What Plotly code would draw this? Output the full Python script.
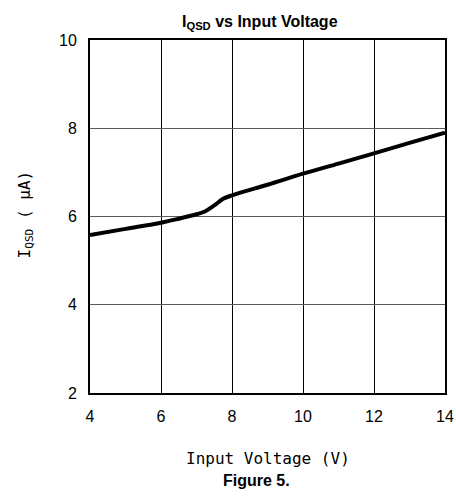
import plotly.graph_objects as go

# Data
vin = [4, 5, 6, 6.5, 7, 7.25, 7.5, 7.75, 8, 9, 10, 11, 12, 13, 14]
iqsd = [5.58, 5.72, 5.86, 5.95, 6.05, 6.12, 6.25, 6.40, 6.48, 6.72, 6.97, 7.2, 7.43, 7.67, 7.9]
x_ticks = [4, 6, 8, 10, 12, 14]
y_ticks = [2, 4, 6, 8, 10]

fig = go.Figure()
fig.add_trace(go.Scatter(x=vin, y=iqsd, mode="lines",
                         line=dict(color="black", width=4, shape="spline", smoothing=1.0),
                         showlegend=False))

fig.update_layout(
    width=456, height=497,
    margin=dict(l=90, r=11, t=40, b=104),
    paper_bgcolor="white", plot_bgcolor="white",
    font=dict(family="Liberation Sans, Arial", color="black"),
    xaxis=dict(range=[4, 14], tickvals=x_ticks, showgrid=True, gridcolor="black", gridwidth=1,
               showline=True, linecolor="black", linewidth=2, mirror=True, zeroline=False,
               ticks="outside", ticklen=8, tickcolor="rgba(0,0,0,0)", automargin=False,
               tickfont=dict(size=16, family="Liberation Sans, Arial")),
    yaxis=dict(range=[2, 10], tickvals=y_ticks, showgrid=True, gridcolor="#5a5a5a", gridwidth=1,
               showline=True, linecolor="black", linewidth=2, mirror=True, zeroline=False,
               ticks="outside", ticklen=8, tickcolor="rgba(0,0,0,0)", automargin=False,
               tickfont=dict(size=16, family="Liberation Sans, Arial")),
    annotations=[
        dict(text="<b>I<sub>QSD</sub> vs Input Voltage</b>", xref="paper", yref="paper",
             x=0.48, y=1.0, yshift=6, xanchor="center", yanchor="bottom", showarrow=False,
             font=dict(size=16, family="Liberation Sans, Arial")),
        dict(text="<b>Figure 5.</b>", xref="paper", yref="paper",
             x=0.47, y=0, yshift=-77, xanchor="center", yanchor="top", showarrow=False,
             font=dict(size=16, family="Liberation Sans, Arial")),
        dict(text="Input Voltage (V)", xref="paper", yref="paper",
             x=0.5, y=0, yshift=-54, xanchor="center", yanchor="top", showarrow=False,
             font=dict(size=16, family="DejaVu Sans Mono")),
        dict(text="I<sub>QSD</sub> ( μA)", xref="paper", yref="paper", textangle=-90,
             x=0, xshift=-65, y=0.5, yshift=2, xanchor="center", yanchor="middle", showarrow=False,
             font=dict(size=16, family="DejaVu Sans Mono")),
    ],
)

fig.write_html(
    "out.html",
    config={"displayModeBar": False, "responsive": False},
    post_script="document.body.style.margin='0';document.body.style.overflow='hidden';"
                "document.documentElement.style.overflow='hidden';",
)
